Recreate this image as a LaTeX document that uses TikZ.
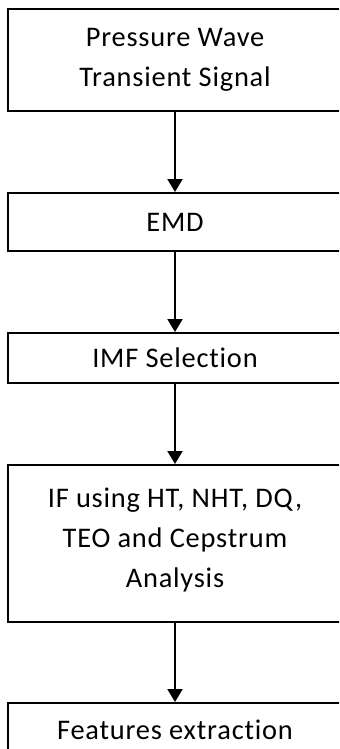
\documentclass[tikz,border=0pt]{standalone}
\usepackage{fontspec}
\setmainfont[LetterSpace=2.8,Ligatures=CommonOff]{Carlito}
\usetikzlibrary{arrows.meta}

\begin{document}
\begin{tikzpicture}[x=0.5pt,y=-0.5pt,
    >={Triangle[length=6.5pt,width=7.5pt]},
    stage/.style={draw, line width=1pt, minimum width=167.5pt, inner sep=0pt,
        align=center, font=\fontsize{14.2}{20}\selectfont}]

\useasboundingbox (0,0) rectangle (339,749);
\clip (0,0) rectangle (339,749);

% --------------------------------------------------
% Processing stages
% --------------------------------------------------
\node[stage, minimum height=50.75pt] (signal) at (175,60.25)
    {Pressure Wave\\Transient Signal};
\node[stage, minimum height=29pt] (emd) at (175,222) {EMD};
\node[stage, minimum height=25pt] (imf) at (175,358) {IMF Selection};
\node[stage, minimum height=78.5pt] (instfreq) at (175,543.5)
    {IF using HT, NHT, DQ,\\TEO and Cepstrum\\Analysis\\[-14pt]\mbox{}};
\node[stage, minimum height=27pt] (features) at (175,730) {Features extraction};

% --------------------------------------------------
% Flow arrows
% --------------------------------------------------
\draw[->, line width=1pt] (signal) -- (emd);
\draw[->, line width=1pt] (emd) -- (imf);
\draw[->, line width=1pt] (imf) -- (instfreq);
\draw[->, line width=1pt] (instfreq) -- (features);

\end{tikzpicture}
\end{document}
